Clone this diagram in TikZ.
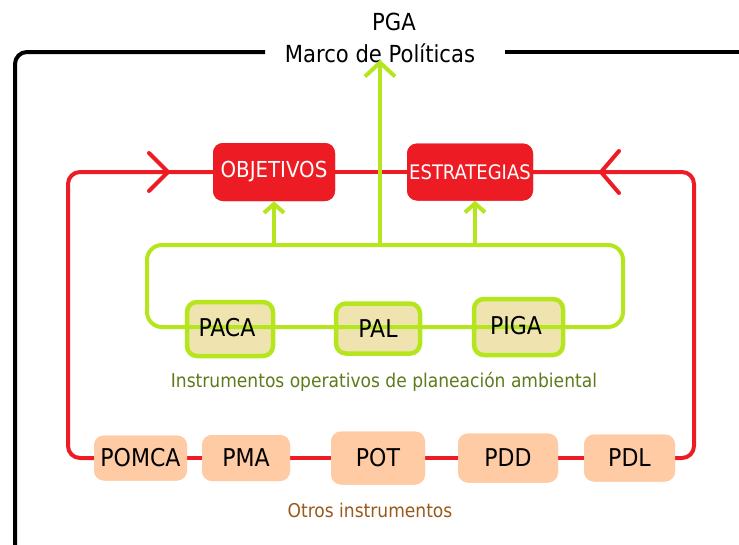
\documentclass[tikz,border=0pt]{standalone}
\usepackage{fontspec}
\setmainfont{DejaVu Sans Condensed}
\usetikzlibrary{arrows.meta}
\definecolor{myred}{HTML}{ED1C24}
\definecolor{limeg}{HTML}{B5E61D}
\definecolor{peach}{HTML}{FFCBA4}
\definecolor{tanfill}{HTML}{EFE4B0}
\definecolor{olivet}{HTML}{5E7A1C}
\definecolor{brownt}{HTML}{99591A}
\begin{document}
\begin{tikzpicture}[x=1pt,y=-1pt,
  redline/.style={draw=myred,line width=4pt,line cap=round,line join=round},
  redbox/.style={fill=myred,rounded corners=10pt,text=white,inner sep=0pt,font=\fontsize{22}{26}\selectfont},
  peachbox/.style={fill=peach,rounded corners=10pt,inner sep=0pt,font=\fontsize{24.5}{28}\selectfont},
  tanbox/.style={fill=tanfill,draw=limeg,line width=4.5pt,rounded corners=10pt,inner sep=0pt},
  tantext/.style={inner sep=0pt,font=\fontsize{24.5}{28}\selectfont},
  garrow/.style={draw=limeg,line width=4pt,-{Straight Barb[length=9pt,width=20pt]}},
  bigarrow/.style={draw=limeg,line width=4pt,-{Straight Barb[length=14pt,width=30pt]}},
  frameline/.style={draw=black,line width=4pt,rounded corners=12pt},
  titletext/.style={inner sep=0pt,font=\fontsize{23.5}{28}\selectfont},
  caption/.style={inner sep=0pt,font=\fontsize{19}{23}\selectfont}
]
\useasboundingbox (0,0) rectangle (739,544);

% title
\node[titletext] (pga) at (394,22) {PGA};
\node[titletext] (marco) at (380,53) {Marco de Políticas};

% black frame
\coordinate (fl) at (265,52);
\coordinate (fr) at (505,52);
\coordinate (fc) at (15,52);
\coordinate (fb) at (15,560);
\coordinate (fe) at (750,52);
\draw[frameline] (fl) -- (fc) -- (fb);
\draw[frameline] (fr) -- (fe);

% red boxes (named, positions)
\node[redbox,minimum width=122pt,minimum height=58pt] (obj) at (274,172) {OBJETIVOS};
\node[redbox,minimum width=126pt,minimum height=57pt,font=\fontsize{20}{24}\selectfont] (estr) at (470,172) {ESTRATEGIAS};

% corners of red loop
\coordinate (rtl) at (68,172);
\coordinate (rbl) at (68,458);
\coordinate (rtr) at (694,172);
\coordinate (rbr) at (694,458);

% bottom boxes (named, positions)
\node[peachbox,minimum width=93pt,minimum height=45pt] (pomca) at (140.5,458) {POMCA};
\node[peachbox,minimum width=88pt,minimum height=46pt] (pma) at (246,458) {PMA};
\node[peachbox,minimum width=94pt,minimum height=53pt] (pot) at (378,458) {POT};
\node[peachbox,minimum width=100pt,minimum height=49pt] (pdd) at (508,458) {PDD};
\node[peachbox,minimum width=91pt,minimum height=47pt] (pdl) at (629.5,458) {PDL};

% red loop
\draw[redline,rounded corners=12pt] (obj.west) -- (rtl) -- (rbl) -- (pomca.west);
\draw[redline,rounded corners=12pt] (pdl.east) -- (rbr) -- (rtr) -- (estr.east);
\draw[redline] (obj.east) -- (estr.west);
\draw[redline] (pomca.east) -- (pma.west);
\draw[redline] (pma.east) -- (pot.west);
\draw[redline] (pot.east) -- (pdd.west);
\draw[redline] (pdd.east) -- (pdl.west);

% redraw boxes on top of lines
\node[redbox,minimum width=122pt,minimum height=58pt] at (obj) {OBJETIVOS};
\node[redbox,minimum width=126pt,minimum height=57pt,font=\fontsize{20}{24}\selectfont] at (estr) {ESTRATEGIAS};
\node[peachbox,minimum width=93pt,minimum height=45pt] at (pomca) {POMCA};
\node[peachbox,minimum width=88pt,minimum height=46pt] at (pma) {PMA};
\node[peachbox,minimum width=94pt,minimum height=53pt] at (pot) {POT};
\node[peachbox,minimum width=100pt,minimum height=49pt] at (pdd) {PDD};
\node[peachbox,minimum width=91pt,minimum height=47pt] at (pdl) {PDL};

% chevrons on the red loop
\coordinate (cl1) at (149,153);
\coordinate (cl2) at (168,172);
\coordinate (cl3) at (149,191);
\coordinate (cr1) at (619,151);
\coordinate (cr2) at (601,172);
\coordinate (cr3) at (619,193);
\draw[redline] (cl1) -- (cl2) -- (cl3);
\draw[redline] (cr1) -- (cr2) -- (cr3);

% tan boxes
\node[tanbox,minimum width=86pt,minimum height=54pt] (paca) at (230,329) {};
\node[tanbox,minimum width=84pt,minimum height=50pt] (pal) at (378,328.5) {};
\node[tanbox,minimum width=89pt,minimum height=56pt] (piga) at (518.5,327) {};

% green rounded rectangle
\node[draw=limeg,line width=4pt,rounded corners=15pt,minimum width=476pt,minimum height=82pt,inner sep=0pt] (grect) at (385,286) {};

% texts of tan boxes above the green line
\node[tantext] (pacat) at (227,328) {PACA};
\node[tantext] (palt) at (378,329) {PAL};
\node[tantext] (pigat) at (516,326) {PIGA};

% green arrows
\draw[bigarrow] (grect.north -| marco.south) -- ([yshift=3pt]marco.south);
\draw[garrow] (grect.north -| obj.south) -- (obj.south);
\draw[garrow] ([xshift=5pt]grect.north -| estr.south) -- ([xshift=5pt]estr.south);

% captions
\node[caption,text=olivet] (instr) at (384,382) {Instrumentos operativos de planeación ambiental};
\node[caption,text=brownt] (otros) at (370,510) {Otros instrumentos};
\end{tikzpicture}
\end{document}
